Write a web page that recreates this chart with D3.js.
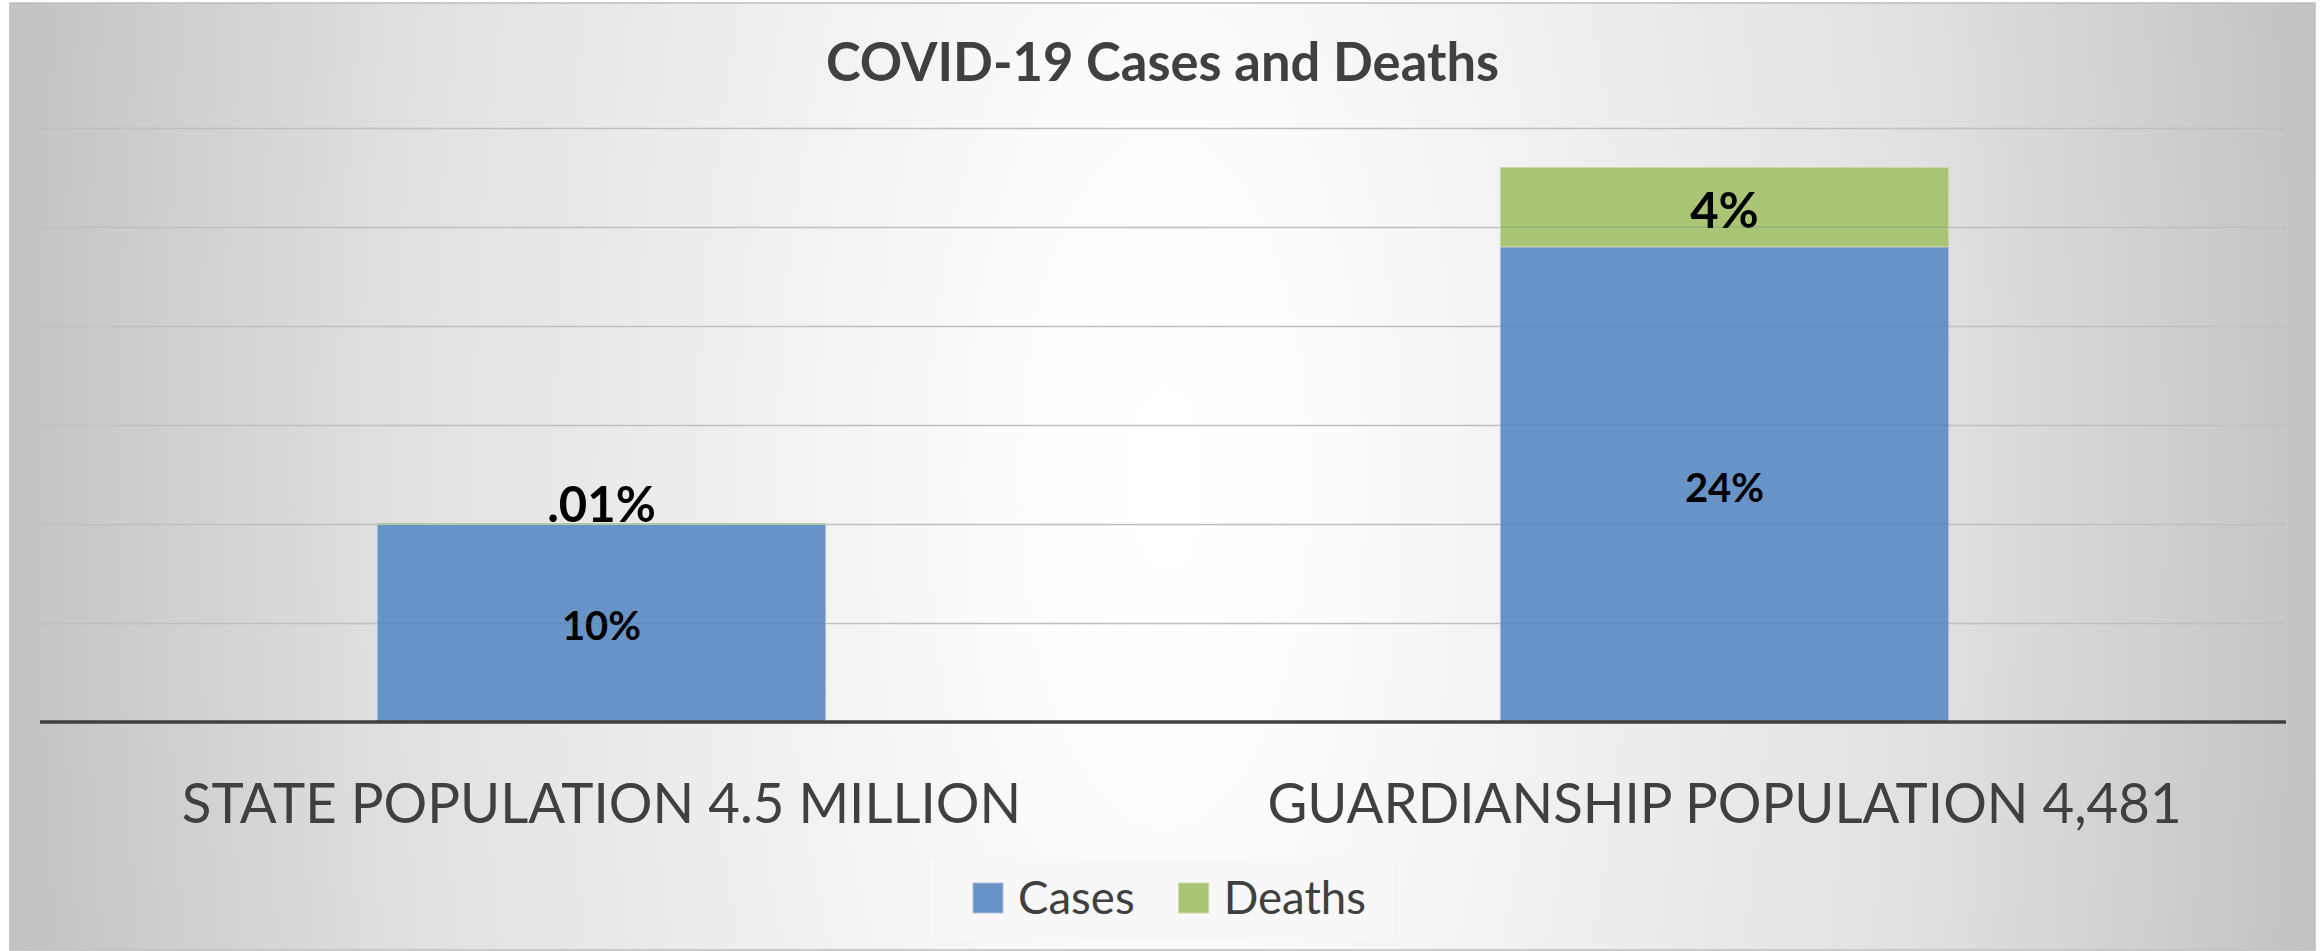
<!DOCTYPE html>
<html>
<head>
<meta charset="utf-8">
<script src="https://cdn.jsdelivr.net/npm/d3@7"></script>
<style>
  html, body { margin: 0; padding: 0; background: #ffffff; }
  svg { display: block; }
  text { font-family: Lato, "Open Sans", "Noto Sans", sans-serif; }
</style>
</head>
<body>
<svg id="chart" width="2323" height="951"></svg>
<script>
// Chart data
const categories = ["STATE POPULATION 4.5 MILLION", "GUARDIANSHIP POPULATION 4,481"];
const seriesNames = ["Cases", "Deaths"];
const casesValues = [10, 24];      // percent
const deathsValues = [0.01, 4];    // percent
const yTicks = [0, 5, 10, 15, 20, 25, 30];
const chartTitle = "COVID-19 Cases and Deaths";

const W = 2323, H = 951;
const svg = d3.select("#chart");
const defs = svg.append("defs");

// Slightly condense the text to the narrower proportions of the original typeface
function condense(sel, k) {
  sel.each(function () {
    const w = this.getComputedTextLength();
    d3.select(this).attr("textLength", w * k).attr("lengthAdjust", "spacingAndGlyphs");
  });
}

// Background: soft radial fade from a white centre to grey edges
const bg = defs.append("radialGradient")
  .attr("id", "bgGrad")
  .attr("gradientUnits", "userSpaceOnUse")
  .attr("cx", 1165).attr("cy", 480).attr("r", 1160)
  .attr("gradientTransform", "translate(1165,480) scale(1,2.4) translate(-1165,-480)");
[[0, "#ffffff"], [0.12, "#fdfdfd"], [0.32, "#f2f2f2"], [0.66, "#e1e1e1"], [1, "#c3c3c3"]]
  .forEach(([o, c]) => bg.append("stop").attr("offset", o).attr("stop-color", c));

const frame = { x: 10, y: 3, w: 2305, h: 947 };
svg.append("rect")
  .attr("x", frame.x).attr("y", frame.y)
  .attr("width", frame.w).attr("height", frame.h)
  .attr("fill", "url(#bgGrad)")
  .attr("stroke", "#bdbdbd").attr("stroke-width", 1.5);

// Plot area
const plot = { left: 40, right: 2286, top: 128, bottom: 722 };

const x = d3.scaleBand()
  .domain(categories)
  .range([plot.left, plot.right])
  .paddingInner(0.6)
  .paddingOuter(0.3);

const y = d3.scaleLinear()
  .domain([0, d3.max(yTicks)])
  .range([plot.bottom, plot.top]);

const colors = d3.scaleOrdinal().domain(seriesNames).range(["#6893c7", "#a9c474"]);
const edgeColors = d3.scaleOrdinal().domain(seriesNames).range(["#a9c0df", "#c9dba4"]);

// Gridlines
const grid = svg.append("g")
  .attr("transform", `translate(${plot.left},0)`)
  .call(d3.axisLeft(y)
    .tickValues(yTicks.filter(t => t > 0))
    .tickSize(-(plot.right - plot.left))
    .tickFormat(""));
grid.select(".domain").remove();
grid.selectAll(".tick line")
  .attr("stroke", "#bfbfbf")
  .attr("stroke-width", 1.6);

// Stacked table
const table = categories.map((c, i) => ({ category: c, Cases: casesValues[i], Deaths: deathsValues[i] }));
const stacked = d3.stack().keys(seriesNames)(table);
stacked.forEach(layer => layer.forEach(p => { p.key = layer.key; p.value = p.data[layer.key]; }));

const layers = svg.append("g").selectAll("g")
  .data(stacked)
  .join("g")
  .attr("fill", d => colors(d.key));

layers.selectAll("rect")
  .data(d => d)
  .join("rect")
  .attr("x", d => x(d.data.category) + 0.5)
  .attr("y", d => y(d[1]))
  .attr("width", x.bandwidth() - 1)
  .attr("height", d => Math.max(0.6, y(d[0]) - y(d[1])))
  .attr("stroke", d => edgeColors(d.key))
  .attr("stroke-width", 1);

// Gridlines faintly visible through the bars
svg.append("g").selectAll("line")
  .data(categories.flatMap((c, i) => yTicks.filter(t => t > 0 && t < casesValues[i] + deathsValues[i]).map(t => ({ c, t }))))
  .join("line")
  .attr("x1", d => x(d.c) + 1)
  .attr("x2", d => x(d.c) + x.bandwidth() - 1)
  .attr("y1", d => y(d.t))
  .attr("y2", d => y(d.t))
  .attr("stroke", "#4a6f9c")
  .attr("stroke-opacity", 0.3)
  .attr("stroke-width", 1.2);

// Category axis line
svg.append("line")
  .attr("x1", plot.left).attr("x2", plot.right)
  .attr("y1", y(0)).attr("y2", y(0))
  .attr("stroke", "#404040").attr("stroke-width", 3.5);

// Value labels
const fmtPct = v => String(v).replace(/^0\./, ".") + "%";
const labelSize = { Cases: 40, Deaths: 49 };
const capRatio = 0.72;

layers.selectAll("text")
  .data(d => d)
  .join("text")
  .attr("x", d => x(d.data.category) + x.bandwidth() / 2)
  .attr("y", d => {
    const top = y(d[1]), bot = y(d[0]);
    const cap = labelSize[d.key] * capRatio;
    if (bot - top < cap + 10) return top - 2;
    return (top + bot) / 2 + cap / 2 + 3;
  })
  .attr("text-anchor", "middle")
  .attr("font-size", d => labelSize[d.key])
  .attr("font-weight", 700)
  .attr("fill", "#000000")
  .text(d => fmtPct(d.value));

// Category labels
svg.append("g").selectAll("text")
  .data(categories)
  .join("text")
  .attr("x", d => x(d) + x.bandwidth() / 2)
  .attr("y", 823)
  .attr("text-anchor", "middle")
  .attr("font-size", 56)
  .attr("fill", "#404040")
  .text(d => d)
  .call(condense, 0.975);

// Title
svg.append("text")
  .attr("x", frame.x + frame.w / 2)
  .attr("y", 81)
  .attr("text-anchor", "middle")
  .attr("font-size", 53)
  .attr("font-weight", 700)
  .attr("fill", "#404040")
  .text(chartTitle)
  .call(condense, 0.99);

// Legend
const legend = svg.append("g");
const lgBox = legend.append("rect").attr("fill", "#f8f8f8");
const sw = 30, gapSwatch = 15, gapItem = 44, lgFont = 47;
const items = legend.selectAll("g.item")
  .data(seriesNames)
  .join("g").attr("class", "item");
items.append("rect")
  .attr("width", sw).attr("height", sw)
  .attr("fill", d => colors(d))
  .attr("stroke", d => edgeColors(d)).attr("stroke-width", 1);
items.append("text")
  .attr("x", sw + gapSwatch)
  .attr("y", 31)
  .attr("font-size", lgFont)
  .attr("fill", "#404040")
  .text(d => d)
  .call(condense, 0.97);
let widths = [];
items.each(function () { widths.push(this.getBBox().width); });
const totalW = d3.sum(widths) + gapItem * (widths.length - 1);
let cx = frame.x + frame.w / 2 - totalW / 2 + 7;
items.attr("transform", (d, i) => {
  const t = `translate(${cx},883)`;
  cx += widths[i] + gapItem;
  return t;
});
lgBox.attr("x", frame.x + frame.w / 2 - totalW / 2 + 7 - 43)
  .attr("y", 858)
  .attr("width", totalW + 43 + 28)
  .attr("height", 80);
</script>
</body>
</html>
